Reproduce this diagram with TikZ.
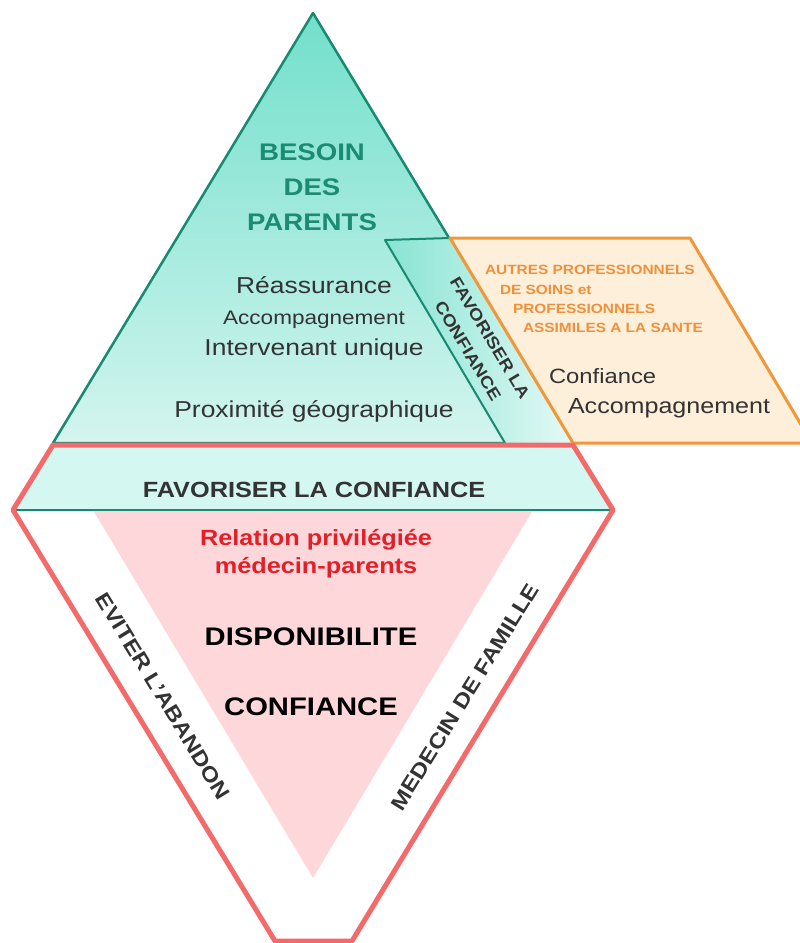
\documentclass[tikz,border=0pt]{standalone}
\usepackage{fontspec}
\setmainfont{Liberation Sans}[FakeStretch=1.15]
\newcommand{\myfs}[1]{\fontsize{#1}{#1}\selectfont}
\definecolor{tealdark}{HTML}{178A70}
\definecolor{tealtop}{HTML}{72DFCB}
\definecolor{tealbot}{HTML}{D3F5EF}
\definecolor{bandfill}{HTML}{D5F7F1}
\definecolor{redline}{HTML}{F36A6A}
\definecolor{pinkfill}{HTML}{FDD7DA}
\definecolor{orline}{HTML}{F2963A}
\definecolor{orfill}{HTML}{FDEFD9}
\definecolor{ortext}{HTML}{F0903A}
\definecolor{redtext}{HTML}{E3202A}
\definecolor{darktext}{HTML}{333333}
\definecolor{titleteal}{HTML}{1B8B73}
\begin{document}
\begin{tikzpicture}[x=1pt,y=-1pt,
  every node/.style={inner sep=0pt, outer sep=0pt},
  tealedge/.style={draw=tealdark, line width=2.5pt, line join=round},
  rededge/.style={draw=redline, line width=5pt, line join=round},
  oredge/.style={draw=orline, line width=3pt, line join=round, fill=orfill},
  title/.style={font=\bfseries\myfs{24}, text=titleteal, anchor=base},
  body/.style={font=\myfs{23}, text=darktext, anchor=base},
  boldlbl/.style={font=\bfseries\myfs{21}, text=darktext},
  redlbl/.style={font=\bfseries\myfs{22}, text=redtext, anchor=base},
  biglbl/.style={font=\bfseries\myfs{25.4}, text=black, anchor=base},
  orlbl/.style={font=\bfseries\myfs{13.4}, text=ortext, anchor=base west},
  orbody/.style={font=\myfs{20.7}, text=darktext, anchor=base west},
  striplbl/.style={font=\bfseries\myfs{16.5}, text=darktext, rotate=-59}
]
\useasboundingbox (0,0) rectangle (800,943);
\clip (0,0) rectangle (800,943);
\fill[white] (0,0) rectangle (800,943);

% coordinates
\coordinate (apex) at (313,13);
\coordinate (bl) at (53,443);
\coordinate (br) at (573,443);
\coordinate (sA) at (385,240);
\coordinate (sB) at (450,238);
\coordinate (sC) at (505,443);
\coordinate (oB) at (690,238);
\coordinate (oC) at (812,443);
\coordinate (h1) at (53,445);
\coordinate (h2) at (573,445);
\coordinate (h3) at (613,510);
\coordinate (h4) at (352,941);
\coordinate (h5) at (275,941);
\coordinate (h6) at (13,510);
\coordinate (p1) at (93,510);
\coordinate (p2) at (533,510);
\coordinate (p3) at (313,878);

% top triangle
\shade[top color=tealtop, bottom color=tealbot] (apex) -- (bl) -- (br) -- cycle;
\draw[tealedge] (apex) -- (bl) -- (br) -- cycle;

% strip
\shade[left color=tealtop!85!white, right color=tealbot!60!white] (sA) -- (sB) -- (br) -- (sC) -- cycle;
\draw[tealedge, line width=2pt] (sB) -- (sA) -- (sC);

% orange parallelogram
\draw[oredge] (sB) -- (oB) -- (oC) -- (br) -- cycle;

% band and lower part
\fill[bandfill] (h1) -- (h2) -- (h3) -- (h6) -- cycle;
\fill[white] (h6) -- (h3) -- (h4) -- (h5) -- cycle;
\fill[pinkfill] (p1) -- (p2) -- (p3) -- cycle;
\draw[draw=tealdark, line width=1.8pt] (h6) -- (h3);
\draw[rededge] (h1) -- (h2) -- (h3) -- (h4) -- (h5) -- (h6) -- cycle;

% texts in top triangle
\node[title] (bes1) at (312,160) {BESOIN};
\node[title] (bes2) at (312,195) {DES};
\node[title] (bes3) at (312,230) {PARENTS};
\node[body] (rea) at (314,293) {Réassurance};
\node[body, font=\myfs{19.6}] (acc) at (314,324) {Accompagnement};
\node[body] (int) at (314,355) {Intervenant unique};
\node[body] (prox) at (314,417) {Proximité géographique};

% strip text
\node[striplbl] (fav1) at (490,338) {FAVORISER LA};
\node[striplbl] (fav2) at (468,351) {CONFIANCE};

% orange texts
\node[orlbl] (aut1) at (485,274) {AUTRES PROFESSIONNELS};
\node[orlbl] (aut2) at (500,294) {DE SOINS et};
\node[orlbl] (aut3) at (513,313) {PROFESSIONNELS};
\node[orlbl] (aut4) at (523,332) {ASSIMILES A LA SANTE};
\node[orbody] (oconf) at (549,383) {Confiance};
\node[orbody, font=\myfs{21.8}] (oacc) at (568,413) {Accompagnement};

% band text
\node[boldlbl, font=\bfseries\myfs{22}, anchor=base] (band) at (314,497) {FAVORISER LA CONFIANCE};

% pink triangle texts
\node[redlbl] (rel1) at (316,545) {Relation privilégiée};
\node[redlbl] (rel2) at (316,573) {médecin-parents};
\node[biglbl] (disp) at (311,645) {DISPONIBILITE};
\node[biglbl] (conf) at (311,715) {CONFIANCE};

% side texts
\node[boldlbl, rotate=-58.6] (evit) at (163,696) {EVITER L'ABANDON};
\node[boldlbl, rotate=58.3] (med) at (465,697) {MEDECIN DE FAMILLE};
\end{tikzpicture}
\end{document}
